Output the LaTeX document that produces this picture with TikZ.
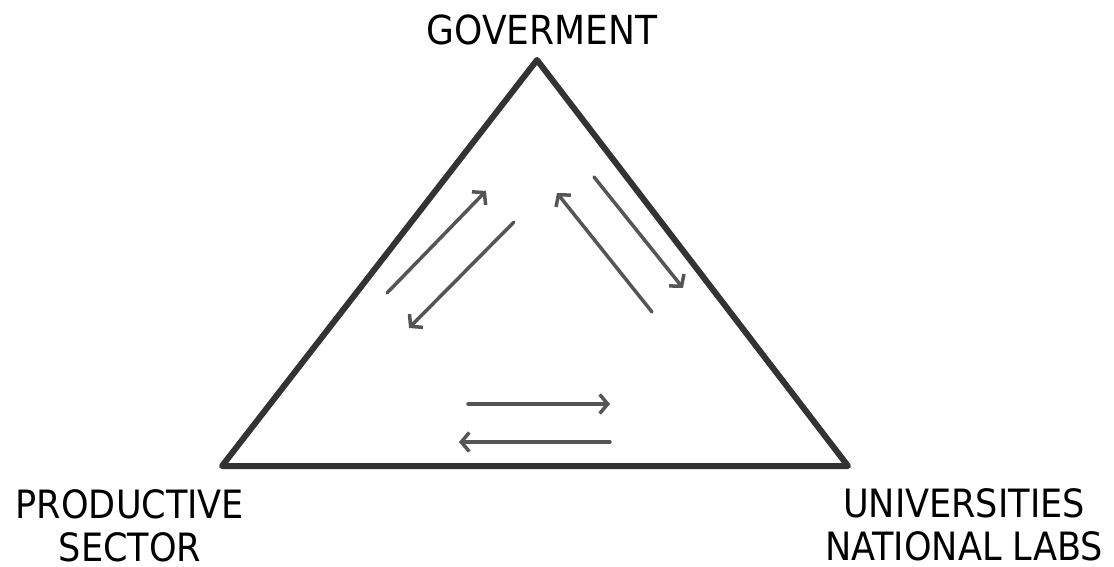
\documentclass[tikz,border=0pt]{standalone}
\usepackage{fontspec}
\setmainfont{DejaVu Sans Condensed}
\usetikzlibrary{arrows.meta}
\definecolor{edgegray}{HTML}{333333}
\definecolor{arrowgray}{HTML}{555555}
\tikzset{
  side/.style={draw=edgegray, line width=6pt, line join=round, line cap=round},
  flow/.style={draw=arrowgray, line width=3.5pt, line cap=round, -{Straight Barb[length=8pt,width=19pt,line width=3.5pt]}},
  lbl/.style={anchor=north, inner sep=0pt, align=center, text=black, font=\fontsize{39}{43}\selectfont}
}
\begin{document}
\begin{tikzpicture}[x=1pt,y=-1pt]
\useasboundingbox (0,0) rectangle (1114,567);
\fill[white] (0,0) rectangle (1114,567);
% triangle vertices
\coordinate (G) at (537,60);
\coordinate (P) at (222,466);
\coordinate (U) at (848,466);
\draw[side] (G) -- (P) -- (U) -- cycle;
% labels
\node[lbl, font=\fontsize{40}{45}\selectfont] (gov) at (542,15) {GOVERMENT};
\node[lbl] (prod) at (130,489) {PRODUCTIVE\\SECTOR};
\node[lbl] (univ) at (964,488) {UNIVERSITIES\\NATIONAL LABS};
% arrow endpoints
\coordinate (a1s) at (387,293); \coordinate (a1e) at (486,191);
\coordinate (a2s) at (514,222); \coordinate (a2e) at (409,328);
\coordinate (a3s) at (652,312); \coordinate (a3e) at (557,193);
\coordinate (a4s) at (594,177); \coordinate (a4e) at (683,288);
\coordinate (a5s) at (468,404); \coordinate (a5e) at (610,404);
\coordinate (a6s) at (610,442); \coordinate (a6e) at (459,442);
\draw[flow] (a1s) -- (a1e);
\draw[flow] (a2s) -- (a2e);
\draw[flow] (a3s) -- (a3e);
\draw[flow] (a4s) -- (a4e);
\draw[flow] (a5s) -- (a5e);
\draw[flow] (a6s) -- (a6e);
\end{tikzpicture}
\end{document}
